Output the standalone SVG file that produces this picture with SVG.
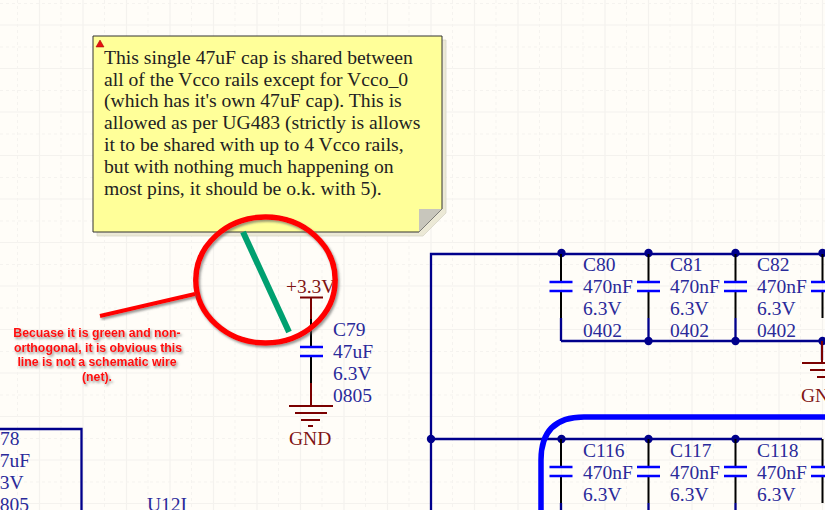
<svg xmlns="http://www.w3.org/2000/svg" width="825" height="510" viewBox="0 0 825 510">
<defs>
<style>
text{font-family:"Liberation Serif","Times New Roman",serif;font-size:19.5px}
.des{fill:#2a2a9a}
.pwr{fill:#7f1414}
.wire{stroke:#00008b;stroke-width:2.300;fill:none}
.pin{stroke:#000;stroke-width:2;fill:none}
.plate{stroke:#0000ff;stroke-width:2.400;fill:none}
.mar{stroke:#7b0000;stroke-width:2;fill:none}
.dot{fill:#00008b}
.g1{stroke:#f4f2ee;stroke-width:1.200}
.g2{stroke:#f5f3ef;stroke-width:1;stroke-dasharray:3 3}
.note{font-size:19.650px;fill:#222}
.red{font-family:"Liberation Sans",Arial,sans-serif;font-size:12.300px;font-weight:bold;text-anchor:middle}
</style>
<filter id="sh" x="-10%" y="-10%" width="120%" height="130%"><feDropShadow dx="1.500" dy="2" stdDeviation="1.200" flood-color="#555" flood-opacity=".6"/></filter>
<g id="cap"><path class="pin" d="M0 0V28M0 37V64"/><path class="plate" d="M-11.500 28H11.500M-11.500 37H11.500"/></g>
</defs>
<rect width="825" height="510" fill="#fffdf8"/>
<g id="grid">
<path class="g1" d="M39.500 0V510M83 0V510M126.500 0V510M170 0V510M213.500 0V510M257 0V510M300.500 0V510M344 0V510M387.500 0V510M431 0V510M474.500 0V510M518 0V510M561.500 0V510M605 0V510M648.500 0V510M692 0V510M735.500 0V510M779 0V510M822.500 0V510M0 25H825M0 68.500H825M0 112H825M0 155.500H825M0 199H825M0 242.500H825M0 286H825M0 329.500H825M0 373H825M0 416.500H825M0 460H825M0 503.500H825"/>
<path class="g2" d="M17.500 0V510M61 0V510M104.500 0V510M148 0V510M191.500 0V510M235 0V510M278.500 0V510M322 0V510M365.500 0V510M409 0V510M452.500 0V510M496 0V510M539.500 0V510M583 0V510M626.500 0V510M670 0V510M713.500 0V510M757 0V510M800.500 0V510M0 3.500H825M0 47H825M0 90.500H825M0 134H825M0 177.500H825M0 221H825M0 264.500H825M0 308H825M0 351.500H825M0 395H825M0 438.500H825M0 482H825"/>
</g>
<g id="connectors">
<path class="wire" d="M431 510V254H825M431 439H822M561 341H822M822 341V360M561 318V341M648.500 318V341M735.500 318V341M0 429H81.500V510"/>
<path class="wire" d="M561 503V510M648.500 503V510M735.500 503V510"/>
<path d="M825 417H584Q541 417 541 460V510" fill="none" stroke="#0000ff" stroke-width="5.500"/>
<g class="dot"><circle cx="561.500" cy="253" r="4.200"/><circle cx="648.500" cy="253" r="4.200"/><circle cx="735.500" cy="253" r="4.200"/><circle cx="822.500" cy="253" r="4.200"/><circle cx="648.500" cy="341" r="4.200"/><circle cx="735.500" cy="341" r="4.200"/><circle cx="822.500" cy="341" r="4.200"/><circle cx="431" cy="439" r="4.200"/><circle cx="561.500" cy="439" r="4.200"/><circle cx="648.500" cy="439" r="4.200"/><circle cx="735.500" cy="439" r="4.200"/></g>
</g>
<g id="C80"><use href="#cap" x="561" y="254"/><text class="des" x="583" y="271">C80</text><text class="des" x="583" y="293">470nF</text><text class="des" x="583" y="315">6.3V</text><text class="des" x="583" y="337">0402</text></g>
<g id="C81"><use href="#cap" x="648.500" y="254"/><text class="des" x="670" y="271">C81</text><text class="des" x="670" y="293">470nF</text><text class="des" x="670" y="315">6.3V</text><text class="des" x="670" y="337">0402</text></g>
<g id="C82"><use href="#cap" x="735.500" y="254"/><text class="des" x="757" y="271">C82</text><text class="des" x="757" y="293">470nF</text><text class="des" x="757" y="315">6.3V</text><text class="des" x="757" y="337">0402</text></g>
<g id="C83"><use href="#cap" x="822.500" y="254"/></g>
<g id="C116"><use href="#cap" x="561" y="439"/><text class="des" x="583" y="457">C116</text><text class="des" x="583" y="479">470nF</text><text class="des" x="583" y="501">6.3V</text><text class="des" x="583" y="523">0402</text></g>
<g id="C117"><use href="#cap" x="648.500" y="439"/><text class="des" x="670" y="457">C117</text><text class="des" x="670" y="479">470nF</text><text class="des" x="670" y="501">6.3V</text><text class="des" x="670" y="523">0402</text></g>
<g id="C118"><use href="#cap" x="735.500" y="439"/><text class="des" x="757" y="457">C118</text><text class="des" x="757" y="479">470nF</text><text class="des" x="757" y="501">6.3V</text><text class="des" x="757" y="523">0402</text></g>
<g id="C119"><use href="#cap" x="822.500" y="439"/></g>
<g id="GND2"><path class="mar" d="M822 341V363M802 363H825M810 370H825M817 377H825"/><text class="pwr" x="801" y="402">GND</text></g>
<g id="C78"><text class="des" x="-13" y="445">C78</text><text class="des" x="-10" y="467">47uF</text><text class="des" x="-15" y="489">6.3V</text><text class="des" x="-10" y="511">0805</text></g>
<g id="U12I"><text class="des" x="147" y="511">U12I</text></g>
<g id="C79">
<path class="mar" d="M311 298V319M311 383V406M300 297.500H323M289 406H333M295 413H327M301 420H320M308 426H313"/>
<path class="pin" d="M311 319V347M311 356V383"/>
<path class="plate" d="M300 347H323M300 356H323"/>
<text class="pwr" x="286" y="293">+3.3V</text>
<text class="des" x="333" y="336">C79</text><text class="des" x="333" y="358">47uF</text><text class="des" x="333" y="380">6.3V</text><text class="des" x="333" y="402">0805</text>
<text class="pwr" x="289" y="445">GND</text>
</g>
<g id="note">
<path d="M97 40H446V213L423 236H97Z" fill="#ece9d6" stroke="#d8d6c8" stroke-width=".8"/>
<path d="M93 36H442V209L419 232H93Z" fill="#ffff99" stroke="#333" stroke-width="1"/>
<path d="M419 232V209H442Z" fill="#c8c6bc"/>
<path d="M96 47L100 40L104 47Z" fill="#e81010" stroke="#900" stroke-width=".5"/>
<text class="note" x="104" y="64">This single 47uF cap is shared between</text>
<text class="note" x="104" y="86">all of the Vcco rails except for Vcco_0</text>
<text class="note" x="104" y="107">(which has it's own 47uF cap). This is</text>
<text class="note" x="104" y="129">allowed as per UG483 (strictly is allows</text>
<text class="note" x="104" y="151">it to be shared with up to 4 Vcco rails,</text>
<text class="note" x="104" y="173">but with nothing much happening on</text>
<text class="note" x="104" y="195">most pins, it should be o.k. with 5).</text>
</g>
<g id="callout">
<path d="M243 232L289 332" stroke="#00a070" stroke-width="6" fill="none"/>
<ellipse cx="265.500" cy="280" rx="69.700" ry="63" fill="none" stroke="#ff0000" stroke-width="5.500" filter="url(#sh)"/>
<path d="M100 316L195 294" stroke="#ff0000" stroke-width="4" fill="none" filter="url(#sh)"/>
<g fill="#ff1010" filter="url(#sh)">
<text class="red" x="97" y="337">Becuase it is green and non-</text>
<text class="red" x="98" y="352">orthogonal, it is obvious this</text>
<text class="red" x="97" y="366">line is not a schematic wire</text>
<text class="red" x="97" y="381">(net).</text>
</g>
</g>
</svg>
